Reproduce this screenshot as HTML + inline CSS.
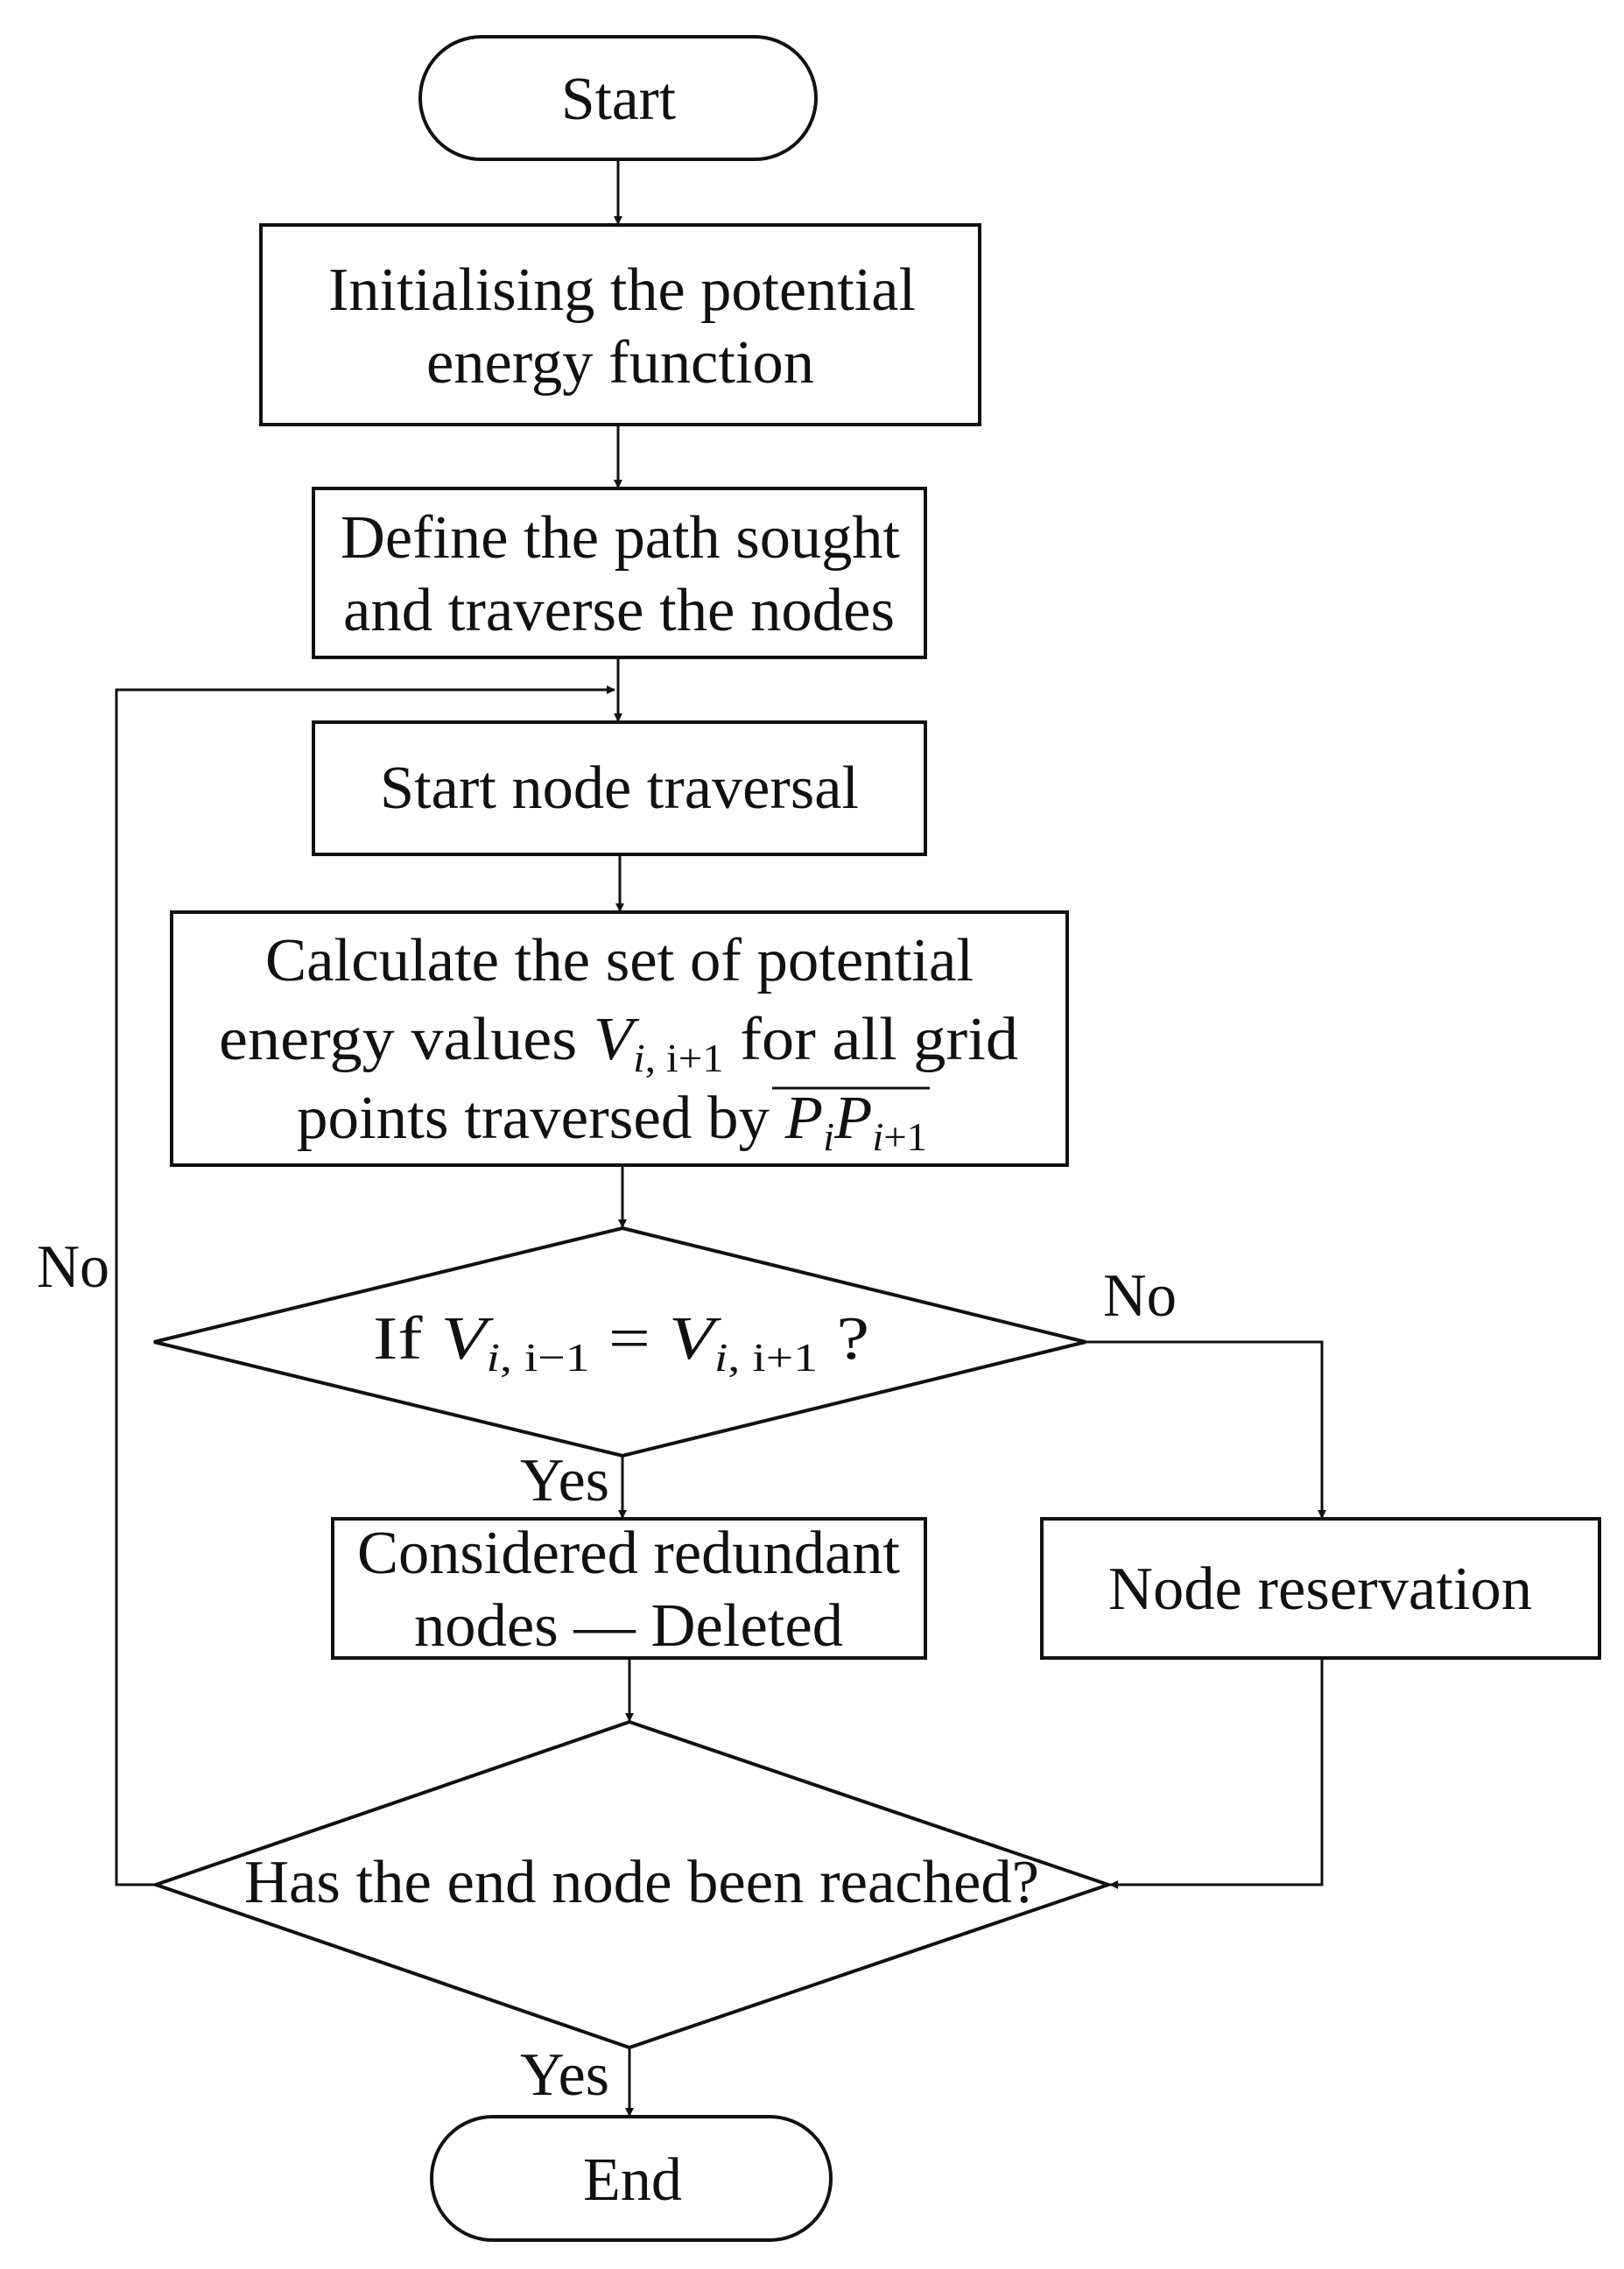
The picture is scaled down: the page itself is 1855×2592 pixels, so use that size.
<!DOCTYPE html>
<html><head><style>html,body{margin:0;padding:0;background:#fff}svg{display:block}</style></head>
<body>
<svg xmlns="http://www.w3.org/2000/svg" width="1855" height="2592" viewBox="0 0 1855 2592">
<defs>
<marker id="a" markerWidth="10" markerHeight="10" refX="9" refY="5" orient="auto" markerUnits="userSpaceOnUse"><path d="M0,0 L10,5 L0,10 z" fill="#111"/></marker>
</defs>
<g fill="none" stroke="#111" stroke-width="4">
<rect x="480" y="42" width="452" height="140" rx="70"/>
<rect x="298" y="257" width="821" height="228"/>
<rect x="358" y="558" width="699" height="193"/>
<rect x="358" y="825" width="699" height="151"/>
<rect x="196" y="1042" width="1023" height="289"/>
<polygon points="711,1403 1240,1533 711,1663 176,1533"/>
<rect x="380" y="1735" width="677" height="159"/>
<rect x="1190" y="1735" width="637" height="159"/>
<polygon points="719,1967 1266,2153 719,2339 178,2153"/>
<rect x="493" y="2418" width="456" height="141" rx="70"/>
</g>
<g fill="none" stroke="#111" stroke-width="3">
<line x1="706" y1="182" x2="706" y2="256" marker-end="url(#a)"/>
<line x1="706" y1="485" x2="706" y2="557" marker-end="url(#a)"/>
<line x1="706" y1="751" x2="706" y2="824" marker-end="url(#a)"/>
<polyline points="178,2153 133,2153 133,788 702,788" marker-end="url(#a)"/>
<line x1="708" y1="976" x2="708" y2="1041" marker-end="url(#a)"/>
<line x1="711" y1="1331" x2="711" y2="1402" marker-end="url(#a)"/>
<line x1="711" y1="1663" x2="711" y2="1734" marker-end="url(#a)"/>
<polyline points="1240,1533 1510,1533 1510,1734" marker-end="url(#a)"/>
<line x1="719" y1="1894" x2="719" y2="1966" marker-end="url(#a)"/>
<polyline points="1510,1894 1510,2153 1268,2153" marker-end="url(#a)"/>
<line x1="719" y1="2339" x2="719" y2="2417" marker-end="url(#a)"/>
</g>
<g font-family="'Liberation Serif', serif" font-size="70" fill="#111">
<text x="641" y="136" textLength="131" lengthAdjust="spacingAndGlyphs">Start</text>
<text x="375" y="354" textLength="671" lengthAdjust="spacingAndGlyphs">Initialising the potential</text>
<text x="487" y="437" textLength="443" lengthAdjust="spacingAndGlyphs">energy function</text>
<text x="389" y="637" textLength="639" lengthAdjust="spacingAndGlyphs">Define the path sought</text>
<text x="392" y="720" textLength="630" lengthAdjust="spacingAndGlyphs">and traverse the nodes</text>
<text x="434" y="923" textLength="547" lengthAdjust="spacingAndGlyphs">Start node traversal</text>
<text x="303" y="1120" textLength="809" lengthAdjust="spacingAndGlyphs">Calculate the set of potential</text>
<text x="250" y="1210" textLength="913" lengthAdjust="spacingAndGlyphs">energy values <tspan font-style="italic">V</tspan><tspan font-size="46" dy="14"><tspan font-style="italic">i</tspan>,  i+1</tspan><tspan dy="-14"> for all grid</tspan></text>
<text x="339" y="1300" textLength="720" lengthAdjust="spacingAndGlyphs">points traversed by <tspan font-style="italic">P</tspan><tspan font-size="46" dy="14" font-style="italic">i</tspan><tspan dy="-14" font-style="italic">P</tspan><tspan font-size="46" dy="14"><tspan font-style="italic">i</tspan>+1</tspan></text>
<line x1="882" y1="1243" x2="1062" y2="1243" stroke="#111" stroke-width="3"/>
<text x="426" y="1552" textLength="567" lengthAdjust="spacingAndGlyphs">If <tspan font-style="italic">V</tspan><tspan font-size="46" dy="14"><tspan font-style="italic">i</tspan>,  i−1</tspan><tspan dy="-14"> = </tspan><tspan font-style="italic">V</tspan><tspan font-size="46" dy="14"><tspan font-style="italic">i</tspan>,  i+1</tspan><tspan dy="-14"> ?</tspan></text>
<text x="408" y="1797" textLength="620" lengthAdjust="spacingAndGlyphs">Considered redundant</text>
<text x="473" y="1880" textLength="490" lengthAdjust="spacingAndGlyphs">nodes — Deleted</text>
<text x="1266" y="1838" textLength="484" lengthAdjust="spacingAndGlyphs">Node reservation</text>
<text x="279" y="2173" textLength="908" lengthAdjust="spacingAndGlyphs">Has the end node been reached?</text>
<text x="666" y="2513" textLength="113" lengthAdjust="spacingAndGlyphs">End</text>
<text x="42" y="1470" textLength="83" lengthAdjust="spacingAndGlyphs">No</text>
<text x="1260" y="1503" textLength="84" lengthAdjust="spacingAndGlyphs">No</text>
<text x="594" y="1714" textLength="102" lengthAdjust="spacingAndGlyphs">Yes</text>
<text x="594" y="2393" textLength="102" lengthAdjust="spacingAndGlyphs">Yes</text>
</g>
</svg>
</body></html>
